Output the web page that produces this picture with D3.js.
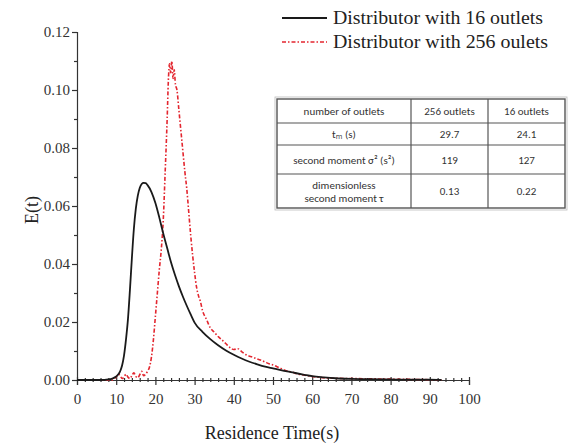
<!DOCTYPE html>
<html>
<head>
<meta charset="utf-8">
<script src="https://cdn.jsdelivr.net/npm/d3@7"></script>
<style>
  html, body { margin: 0; padding: 0; background: #fff; }
  svg { display: block; }
  .serif { font-family: "Liberation Serif", "Times New Roman", "DejaVu Serif", serif; }
  .sans { font-family: Carlito, Lato, "Open Sans", sans-serif; }
</style>
</head>
<body>
<svg id="chart" width="569" height="446"></svg>
<script>
// Residence time distribution E(t) for the two distributor designs
const t16 = [0, 2, 4, 6, 8, 9, 10, 11, 11.5, 12, 12.5, 13, 13.5, 14, 14.5, 15, 15.5, 16, 16.5, 17, 17.5, 18, 19, 20, 21, 22, 23, 24, 25, 26, 27, 28, 29, 30, 32, 34, 36, 38, 40, 42, 44, 46, 48, 50, 52, 55, 58, 60, 63, 66, 70, 75, 80, 85, 90, 93];
const e16 = [0, 0, 0, 0, 0.0002, 0.0005, 0.0012, 0.0030, 0.0050, 0.0085, 0.0140, 0.0210, 0.0310, 0.0420, 0.0520, 0.0590, 0.0635, 0.0662, 0.0676, 0.0680, 0.0679, 0.0672, 0.0648, 0.0610, 0.0560, 0.0505, 0.0455, 0.0405, 0.0362, 0.0323, 0.0288, 0.0256, 0.0226, 0.0198, 0.0166, 0.0141, 0.0120, 0.0102, 0.0087, 0.0074, 0.0063, 0.0054, 0.0046, 0.0040, 0.0034, 0.0026, 0.0018, 0.0013, 0.0009, 0.0006, 0.0004, 0.0003, 0.0002, 0.0001, 0.0001, 0];

const t256 = [0, 3, 6, 9, 9.5, 10, 10.5, 11, 11.5, 12, 12.5, 13, 13.5, 14, 14.5, 15, 15.5, 16, 16.5, 17, 17.5, 18, 18.5, 19, 19.5, 20, 20.5, 21, 21.5, 22, 22.5, 23, 23.3, 23.6, 23.9, 24.2, 24.5, 24.8, 25.1, 25.5, 26, 26.5, 27, 27.5, 28, 28.5, 29, 29.5, 30, 30.5, 31, 31.5, 32, 33, 34, 35, 36, 37, 38, 39, 40, 41, 42, 43, 44, 45, 46, 47, 48, 49, 50, 51, 52, 53, 54, 55, 56, 58, 60, 62, 65, 70, 75, 80, 85, 90, 93];
const e256 = [0, 0, 0, 0, 0.0005, 0.0010, 0.0020, 0.0015, 0.0005, 0.0010, 0.0020, 0.0010, 0.0005, 0.0015, 0.0025, 0.0012, 0.0008, 0.0018, 0.0030, 0.0015, 0.0020, 0.0030, 0.0045, 0.0080, 0.0140, 0.0220, 0.0300, 0.0380, 0.0450, 0.0550, 0.0720, 0.0900, 0.1030, 0.1090, 0.1060, 0.1100, 0.1040, 0.1070, 0.1020, 0.1000, 0.0930, 0.0860, 0.0790, 0.0720, 0.0660, 0.0580, 0.0500, 0.0430, 0.0370, 0.0320, 0.0290, 0.0270, 0.0240, 0.0210, 0.0180, 0.0165, 0.0150, 0.0138, 0.0125, 0.0112, 0.0105, 0.0108, 0.0098, 0.0088, 0.0082, 0.0078, 0.0072, 0.0068, 0.0062, 0.0056, 0.0052, 0.0046, 0.0040, 0.0034, 0.0030, 0.0027, 0.0022, 0.0017, 0.0012, 0.0009, 0.0006, 0.0005, 0.0004, 0.0003, 0.0002, 0.0001, 0];

const xTicks = [0, 10, 20, 30, 40, 50, 60, 70, 80, 90, 100];
const yTicks = [0, 0.02, 0.04, 0.06, 0.08, 0.10, 0.12];

const seriesNames = ["Distributor with 16 outlets", "Distributor with 256 oulets"];

// Summary table
const tableHeader = ["number of outlets", "256 outlets", "16 outlets"];
const tableRowLabels = [["t\u2098 (s)"], ["second moment \u03c3\u00b2 (s\u00b2)"], ["dimensionless", "second moment \u03c4"]];
const values256 = ["29.7", "119", "0.13"];
const values16 = ["24.1", "127", "0.22"];

const svg = d3.select("#chart");
const axisColor = "#333";

const x = d3.scaleLinear().domain([0, 100]).range([77, 469]);
const y = d3.scaleLinear().domain([0, 0.12]).range([380, 32]);

// y axis: major ticks with labels, minor ticks in between
svg.append("g").attr("transform", `translate(${x(0)},0)`)
  .call(d3.axisLeft(y).tickValues(yTicks).tickFormat(d3.format(".2f")).tickSize(5).tickPadding(2));
svg.append("g").attr("transform", `translate(${x(0)},0)`)
  .call(d3.axisLeft(y).tickValues(d3.range(0.01, 0.12, 0.02)).tickFormat("").tickSize(3))
  .call(g => g.select(".domain").remove());

// x axis: ticks crossing the axis line
const xAxis = svg.append("g").attr("transform", `translate(0,${y(0)})`)
  .call(d3.axisBottom(x).tickValues(xTicks).tickSize(5).tickPadding(8));
xAxis.selectAll(".tick line").attr("y1", -3);
const xMinor = svg.append("g").attr("transform", `translate(0,${y(0)})`)
  .call(d3.axisBottom(x).tickValues(d3.range(0, 101, 2).filter(v => v % 10 !== 0)).tickFormat("").tickSize(2));
xMinor.select(".domain").remove();
xMinor.selectAll(".tick line").attr("y1", -2);

svg.selectAll("g").attr("font-family", null);
svg.selectAll(".domain, .tick line").attr("stroke", axisColor).attr("stroke-width", 1.2);
svg.selectAll(".tick text").attr("class", "serif").attr("font-size", 15).attr("fill", "#333");

// axis titles
svg.append("text").attr("class", "serif").attr("x", 272).attr("y", 439).attr("text-anchor", "middle")
  .attr("font-size", 18).attr("fill", "#222").text("Residence Time(s)");
svg.append("text").attr("class", "serif").attr("transform", "translate(38,210) rotate(-90)").attr("text-anchor", "middle")
  .attr("font-size", 18).attr("fill", "#222").text("E(t)");

// curves
const line = d3.line().x(d => x(d[0])).y(d => y(d[1])).curve(d3.curveMonotoneX);
svg.append("path").datum(d3.zip(t256, e256)).attr("d", line)
  .attr("fill", "none").attr("stroke", "#e3262f").attr("stroke-width", 1.6)
  .attr("stroke-dasharray", "4,2,1.5,2");
svg.append("path").datum(d3.zip(t16, e16)).attr("d", line)
  .attr("fill", "none").attr("stroke", "#1a1a1a").attr("stroke-width", 1.8);

// legend
const legend = svg.append("g");
legend.append("line").attr("x1", 282).attr("x2", 327).attr("y1", 18).attr("y2", 18)
  .attr("stroke", "#1a1a1a").attr("stroke-width", 1.8);
legend.append("line").attr("x1", 282).attr("x2", 327).attr("y1", 42).attr("y2", 42)
  .attr("stroke", "#e3262f").attr("stroke-width", 1.6).attr("stroke-dasharray", "4,2,1.5,2");
legend.selectAll("text.leg").data(seriesNames).join("text").attr("class", "serif")
  .attr("x", 333).attr("y", (d, i) => 24 + i * 24)
  .attr("font-size", 19).attr("fill", "#222")
  .attr("textLength", (d, i) => i === 0 ? 210 : 215).attr("lengthAdjust", "spacingAndGlyphs")
  .text(d => d);

// table
const tbl = svg.append("g");
const colX = [277, 411, 488, 565];
const rowY = [99, 123, 145, 174, 208];
tbl.append("rect").attr("x", colX[0]).attr("y", rowY[0]).attr("width", colX[3] - colX[0]).attr("height", rowY[4] - rowY[0])
  .attr("fill", "#fff").attr("stroke", "#555").attr("stroke-width", 1.4);
tbl.append("rect").attr("x", colX[0] - 2).attr("y", rowY[0] - 2).attr("width", colX[3] - colX[0] + 4).attr("height", rowY[4] - rowY[0] + 4)
  .attr("fill", "none").attr("stroke", "#bbb").attr("stroke-width", 0.8);
colX.slice(1, 3).forEach(cx => tbl.append("line").attr("x1", cx).attr("x2", cx).attr("y1", rowY[0]).attr("y2", rowY[4])
  .attr("stroke", "#555").attr("stroke-width", 1.2));
rowY.slice(1, 4).forEach(ry => tbl.append("line").attr("x1", colX[0]).attr("x2", colX[3]).attr("y1", ry).attr("y2", ry)
  .attr("stroke", "#555").attr("stroke-width", 1.2));

const cellText = (col, row, lines) => {
  const cx = (colX[col] + colX[col + 1]) / 2;
  const cy = (rowY[row] + rowY[row + 1]) / 2;
  const lh = 13;
  lines.forEach((s, k) => {
    tbl.append("text").attr("class", "sans").attr("x", cx).attr("y", cy + (k - (lines.length - 1) / 2) * lh + 4)
      .attr("text-anchor", "middle").attr("font-size", 11).attr("fill", "#333").text(s);
  });
};
tableHeader.forEach((h, c) => cellText(c, 0, [h]));
tableRowLabels.forEach((lab, r) => {
  cellText(0, r + 1, lab);
  cellText(1, r + 1, [values256[r]]);
  cellText(2, r + 1, [values16[r]]);
});
</script>
</body>
</html>
